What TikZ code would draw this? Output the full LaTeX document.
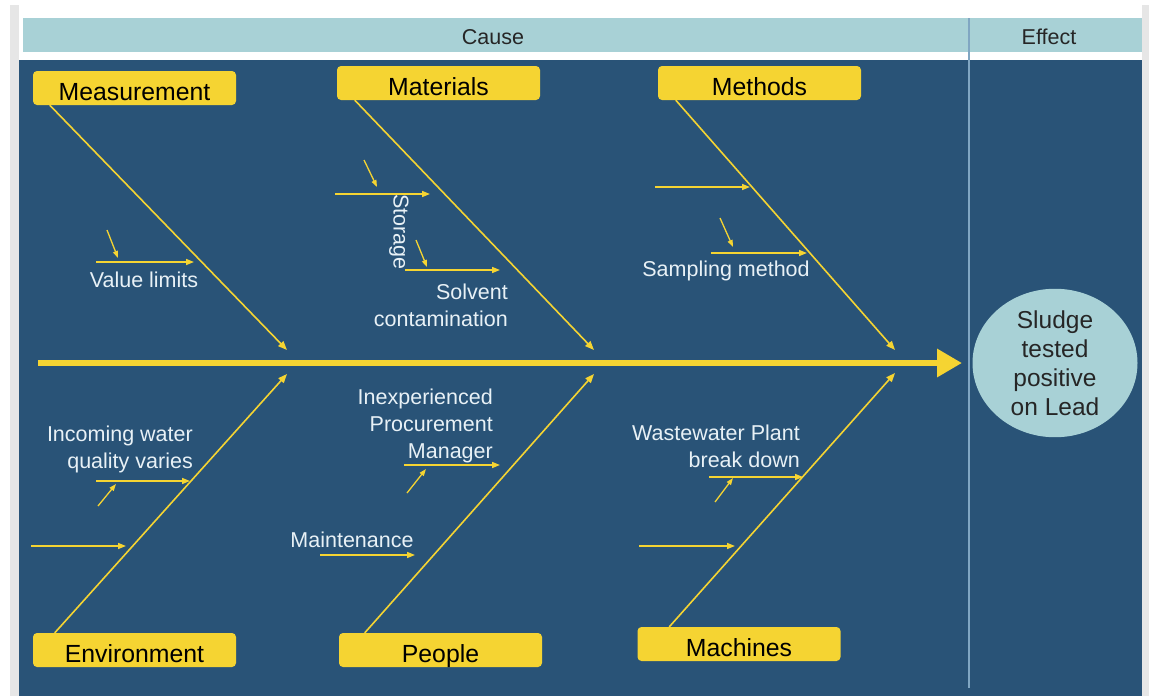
\documentclass[tikz,border=0pt]{standalone}
\usepackage{fontspec}
\setmainfont{Liberation Sans}
\usetikzlibrary{arrows.meta,calc,shapes.geometric}

\definecolor{panel}{RGB}{41,83,119}
\definecolor{headteal}{RGB}{168,209,214}
\definecolor{boneyellow}{RGB}{245,212,50}
\definecolor{labeltext}{RGB}{232,241,246}
\definecolor{divider}{RGB}{128,166,194}
\definecolor{framegrey}{RGB}{230,230,230}

\tikzset{
  catbox/.style={fill=boneyellow, rounded corners=4pt, minimum width=203pt,
    minimum height=34pt, inner sep=0pt, text=black,
    text height=24pt, text depth=0pt,
    font=\fontsize{24.8}{28}\selectfont},
  bone/.style={draw=boneyellow, line width=1.6pt,
    -{Triangle[length=9pt,width=7pt]}},
  twig/.style={draw=boneyellow, line width=1.5pt,
    -{Triangle[length=8pt,width=6pt]}},
  sprig/.style={draw=boneyellow, line width=1.3pt,
    -{Triangle[length=7pt,width=5pt]}},
  causetext/.style={text=labeltext, inner sep=0pt,
    font=\fontsize{21.5}{27}\selectfont},
  headtext/.style={text=black!85, inner sep=0pt,
    font=\fontsize{21.5}{24}\selectfont},
  effectoval/.style={ellipse, fill=headteal, minimum width=165pt,
    minimum height=146pt, inner sep=0pt, align=center, text=black!85,
    font=\fontsize{24.5}{29}\selectfont}
}

\begin{document}
\begin{tikzpicture}[x=1pt,y=-1pt]
\useasboundingbox (0,0) rectangle (1149,696);
\fill[white] (0,0) rectangle (1149,696);

% frame, header band and panel
\fill[framegrey] (10,5) rectangle (19,696);
\fill[framegrey] (1142,5) rectangle (1149,696);
\fill[headteal] (23,18) rectangle (1142,52);
\fill[panel] (19,60) rectangle (1142,696);
\draw[divider, line width=1.6pt] (969,18) -- (969,688);
\node[headtext] (cause) at (493,37) {Cause};
\node[headtext] (effect) at (1049,37) {Effect};

% effect
\node[effectoval] (sludge) at (1055,363) {Sludge\\tested\\positive\\on Lead};

% spine
\coordinate (spineL) at (38,363);
\coordinate (spineR) at (962,363);
\draw[boneyellow, line width=6.5pt, -{Triangle[length=25pt,width=27pt]}] (spineL) -- (spineR);

% category boxes
\node[catbox] (meas) at (134.5,88) {Measurement};
\node[catbox] (mat)  at (438.5,83) {Materials};
\node[catbox] (meth) at (759.5,83) {Methods};
\node[catbox] (env)  at (134.5,650) {Environment};
\node[catbox] (peop) at (440.5,650) {People};
\node[catbox] (mach) at (739,644) {Machines};

% bone ends on the spine
\coordinate (measE) at (287,350);
\coordinate (matE)  at (594,350);
\coordinate (methE) at (895,350);
\coordinate (envE)  at (287,374);
\coordinate (peopE) at (594,374);
\coordinate (machE) at (895,373);

\draw[bone] ($(meas.south west)+(17,0)$) -- (measE);
\draw[bone] ($(mat.south west)+(18,0)$) -- (matE);
\draw[bone] ($(meth.south west)+(18,0)$) -- (methE);
\draw[bone] ($(env.north west)+(22,0)$) -- (envE);
\draw[bone] ($(peop.north west)+(26,0)$) -- (peopE);
\draw[bone] ($(mach.north west)+(32,0)$) -- (machE);

% Measurement branch
\coordinate (mh1a) at (96,262);  \coordinate (mh1b) at (194,262);
\coordinate (md1a) at (107,230); \coordinate (md1b) at (118,258);
\draw[twig] (mh1a) -- (mh1b);
\draw[sprig] (md1a) -- (md1b);
\node[causetext] (valuelim) at (144,280) {Value limits};

% Materials branch
\coordinate (th1a) at (335,194); \coordinate (th1b) at (430,194);
\coordinate (td1a) at (364,160); \coordinate (td1b) at (377,187);
\coordinate (th2a) at (405,270); \coordinate (th2b) at (500,270);
\coordinate (td2a) at (416,240); \coordinate (td2b) at (427,267);
\draw[twig] (th1a) -- (th1b);
\draw[sprig] (td1a) -- (td1b);
\draw[twig] (th2a) -- (th2b);
\draw[sprig] (td2a) -- (td2b);
\node[causetext, rotate=-90] (storage) at (399,232) {Storage};
\node[causetext, align=right, anchor=east] (solvent) at (508,305)
  {Solvent\\contamination};

% Methods branch
\coordinate (eh1a) at (655,187); \coordinate (eh1b) at (750,187);
\coordinate (eh2a) at (711,253); \coordinate (eh2b) at (807,253);
\coordinate (ed1a) at (720,218); \coordinate (ed1b) at (733,247);
\draw[twig] (eh1a) -- (eh1b);
\draw[twig] (eh2a) -- (eh2b);
\draw[sprig] (ed1a) -- (ed1b);
\node[causetext] (sampling) at (726,271) {Sampling method};

% Environment branch
\coordinate (nh1a) at (96,481);  \coordinate (nh1b) at (190,481);
\coordinate (nd1a) at (98,506);  \coordinate (nd1b) at (116,484);
\coordinate (nh2a) at (31,546);  \coordinate (nh2b) at (126,546);
\draw[twig] (nh1a) -- (nh1b);
\draw[sprig] (nd1a) -- (nd1b);
\draw[twig] (nh2a) -- (nh2b);
\node[causetext, align=right, anchor=east] (incoming) at (193,449)
  {Incoming water\\quality varies};

% People branch
\coordinate (ph1a) at (404,465); \coordinate (ph1b) at (500,465);
\coordinate (pd1a) at (407,493); \coordinate (pd1b) at (426,469);
\coordinate (ph2a) at (320,555); \coordinate (ph2b) at (415,555);
\draw[twig] (ph1a) -- (ph1b);
\draw[sprig] (pd1a) -- (pd1b);
\draw[twig] (ph2a) -- (ph2b);
\node[causetext, align=right, anchor=east] (inexp) at (493,426)
  {Inexperienced\\Procurement\\Manager};
\node[causetext] (maint) at (352,540) {Maintenance};

% Machines branch
\coordinate (ch1a) at (709,477); \coordinate (ch1b) at (803,477);
\coordinate (cd1a) at (715,502); \coordinate (cd1b) at (733,478);
\coordinate (ch2a) at (639,546); \coordinate (ch2b) at (735,546);
\draw[twig] (ch1a) -- (ch1b);
\draw[sprig] (cd1a) -- (cd1b);
\draw[twig] (ch2a) -- (ch2b);
\node[causetext, align=right, anchor=east] (wastewater) at (800,446)
  {Wastewater Plant\\break down};
\end{tikzpicture}
\end{document}
